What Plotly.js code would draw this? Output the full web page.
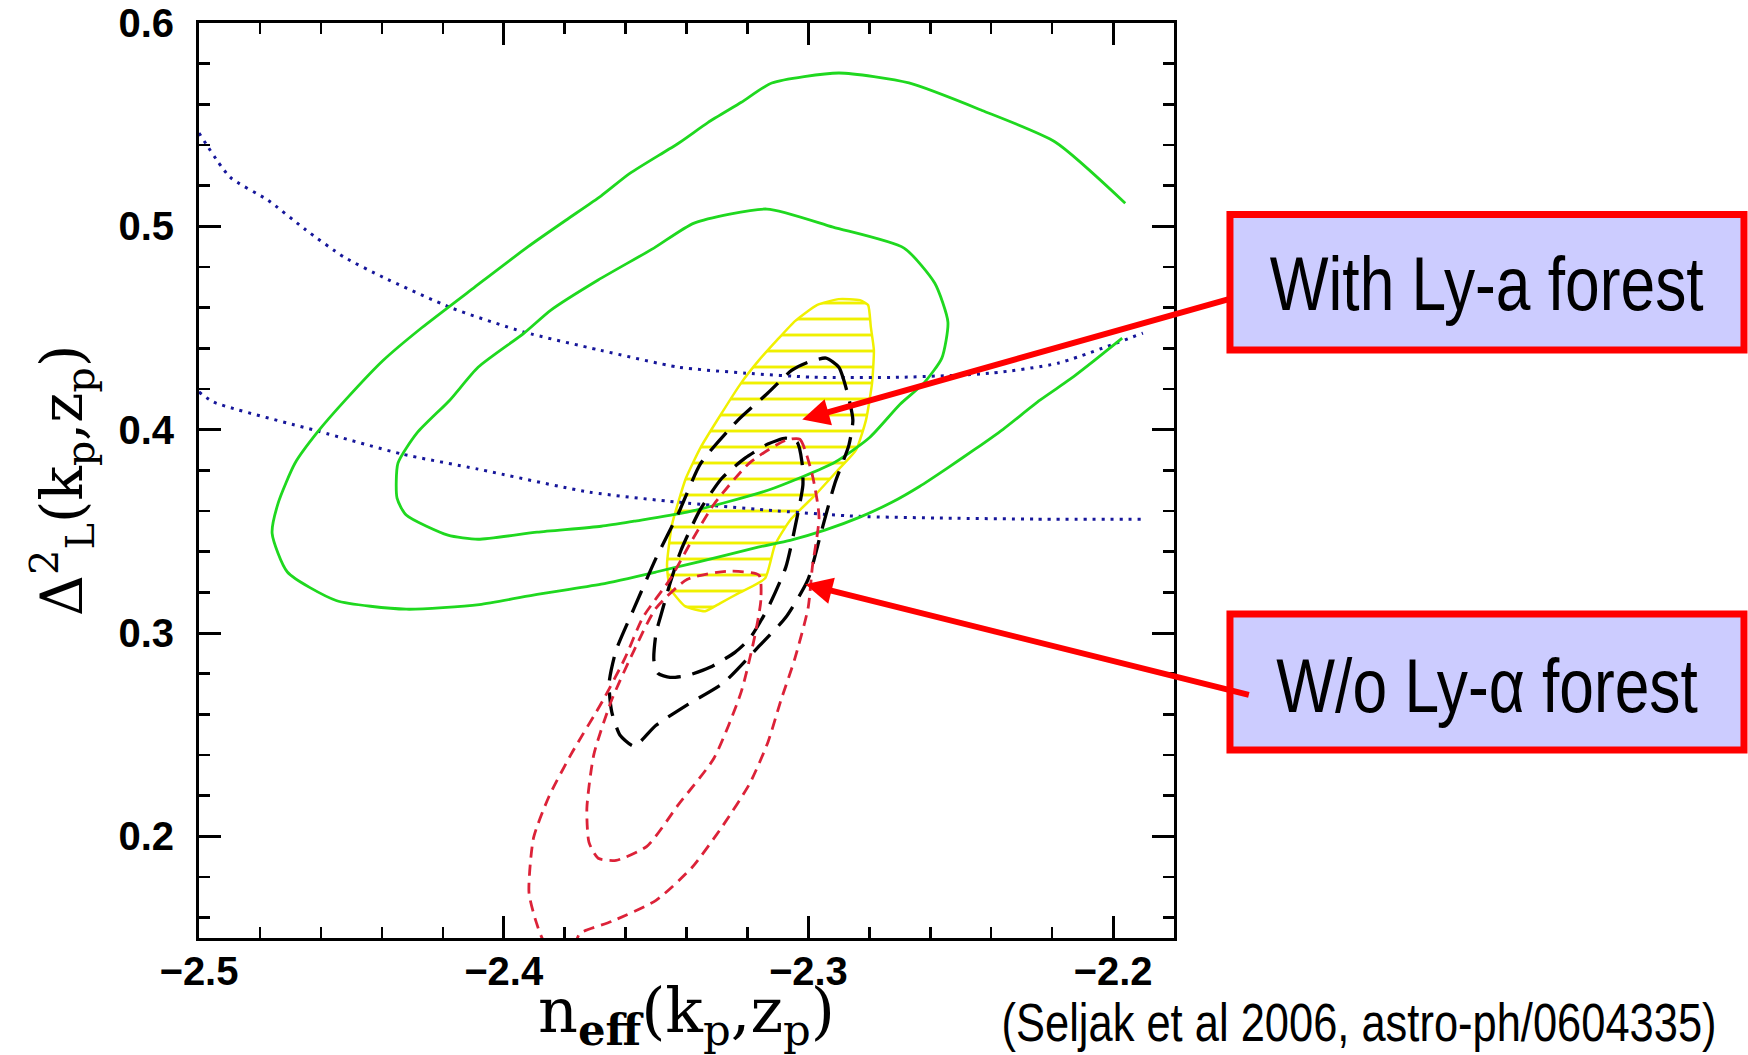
<!DOCTYPE html>
<html>
<head>
<meta charset="utf-8">
<script src="https://cdn.plot.ly/plotly-3.0.1.min.js"></script>
<style>html,body{margin:0;padding:0;background:#fff;}#chart{width:1748px;height:1055px;}</style>
</head>
<body>
<div id="chart"></div>
<script>
// ---- data (in axis units) ----
const greenOuterX = [-2.197,-2.206,-2.2141,-2.224,-2.2361,-2.2453,-2.2545,-2.2634,-2.2726,-2.2831,-2.2946,-2.306,-2.3165,-2.336,-2.350,-2.368,-2.389,-2.408,-2.432,-2.455,-2.471,-2.476,-2.474,-2.4685,-2.461,-2.452,-2.4396,-2.427,-2.4096,-2.392,-2.3796,-2.368,-2.3586,-2.3425,-2.333,-2.322,-2.312,-2.290,-2.267,-2.243,-2.219,-2.196];
const greenOuterY = [0.445,0.4342,0.4248,0.4145,0.4002,0.3904,0.381,0.3722,0.3643,0.357,0.3506,0.3456,0.3422,0.335,0.330,0.324,0.319,0.314,0.3117,0.316,0.330,0.349,0.364,0.3835,0.399,0.4145,0.434,0.450,0.470,0.490,0.503,0.515,0.526,0.541,0.551,0.561,0.5705,0.5754,0.5705,0.557,0.5415,0.5114];

const greenInnerX = [-2.4177,-2.4084,-2.3933,-2.3845,-2.369,-2.3507,-2.3375,-2.3136,-2.2919,-2.2686,-2.2585,-2.2542,-2.2562,-2.2621,-2.2699,-2.2798,-2.2913,-2.3133,-2.3398,-2.3572,-2.368,-2.389,-2.4084,-2.4183,-2.432,-2.435,-2.4347,-2.4285,-2.4177];
const greenInnerY = [0.4145,0.4307,0.4475,0.4588,0.4736,0.4893,0.5016,0.5085,0.4996,0.4893,0.472,0.4529,0.4352,0.4229,0.4125,0.3963,0.384,0.3702,0.3594,0.355,0.3525,0.3496,0.3461,0.3481,0.358,0.3663,0.3835,0.3983,0.4145];

const blueUpperX = [-2.5,-2.4898,-2.4774,-2.4649,-2.4524,-2.4396,-2.417,-2.3933,-2.3684,-2.3425,-2.3205,-2.2985,-2.2693,-2.24,-2.2181,-2.1902];
const blueUpperY = [0.5459,0.5242,0.5129,0.4982,0.4849,0.475,0.4598,0.448,0.4391,0.4307,0.4278,0.4258,0.4258,0.4278,0.4327,0.4475];

const blueLowerX = [-2.5,-2.4951,-2.461,-2.4334,-2.4084,-2.372,-2.3425,-2.3133,-2.284,-2.2548,-2.2253,-2.1902];
const blueLowerY = [0.4185,0.4135,0.3993,0.388,0.3806,0.3693,0.3643,0.3604,0.3574,0.3565,0.356,0.356];

const yellowX = [-2.2972,-2.2900,-2.2831,-2.2804,-2.2795,-2.2785,-2.2791,-2.2811,-2.2844,-2.2903,-2.2978,-2.306,-2.311,-2.3142,-2.3224,-2.329,-2.3339,-2.3405,-2.3454,-2.3464,-2.3448,-2.3402,-2.3353,-2.3293,-2.3221,-2.3162,-2.3103,-2.3044,-2.2972];
const yellowY = [0.4613,0.4642,0.4637,0.4613,0.4504,0.4391,0.4229,0.4047,0.3899,0.3801,0.3678,0.3555,0.3432,0.3269,0.32,0.3146,0.3107,0.3132,0.322,0.3333,0.353,0.3761,0.3914,0.4061,0.4229,0.4342,0.444,0.4534,0.4613];

const blackOuterX = [-2.2942,-2.29,-2.287,-2.2854,-2.2867,-2.2913,-2.2959,-2.3001,-2.3074,-2.3162,-2.328,-2.3395,-2.35,-2.3572,-2.3618,-2.3645,-2.3654,-2.3631,-2.3572,-2.35,-2.3425,-2.3353,-2.3231,-2.3133,-2.3054,-2.3001,-2.2942];
const blackOuterY = [0.4352,0.4307,0.417,0.4047,0.3924,0.3737,0.349,0.3264,0.3077,0.2935,0.2753,0.2649,0.2546,0.2443,0.2497,0.261,0.2753,0.2915,0.3122,0.3368,0.3594,0.3835,0.4047,0.418,0.4293,0.4332,0.4352];

const blackInnerX = [-2.3074,-2.3037,-2.3021,-2.3018,-2.3037,-2.3074,-2.3133,-2.3192,-2.3241,-2.3323,-2.3395,-2.3454,-2.3494,-2.3507,-2.35,-2.3484,-2.3454,-2.3418,-2.3356,-2.3284,-2.3208,-2.3133,-2.3074];
const blackInnerY = [0.3958,0.3939,0.384,0.3727,0.357,0.3324,0.3122,0.2974,0.2905,0.2831,0.2792,0.2782,0.2802,0.2866,0.2999,0.3087,0.3245,0.3407,0.3604,0.3761,0.386,0.3929,0.3958];

const redOuterX = [-2.3074,-2.3028,-2.2987,-2.2965,-2.2987,-2.3001,-2.3044,-2.309,-2.3133,-2.3192,-2.328,-2.3382,-2.35,-2.3645,-2.375,-2.3766,-2.3864,-2.3894,-2.3917,-2.3902,-2.3851,-2.3779,-2.3674,-2.3602,-2.3543,-2.3454,-2.3382,-2.331,-2.3192,-2.3074];
const redOuterY = [0.3948,0.3953,0.3776,0.357,0.3324,0.3122,0.2876,0.2669,0.2462,0.2261,0.2054,0.1847,0.1685,0.1582,0.1523,0.1478,0.1478,0.1582,0.1724,0.1993,0.2197,0.2403,0.2669,0.2876,0.3077,0.3264,0.3456,0.3633,0.3838,0.3948];

const redInnerX = [-2.3162,-2.3156,-2.3177,-2.3221,-2.331,-2.3426,-2.353,-2.3631,-2.369,-2.372,-2.3727,-2.3704,-2.3646,-2.3572,-2.35,-2.3397,-2.3265,-2.3162];
const redInnerY = [0.3284,0.3161,0.2977,0.2708,0.2384,0.2157,0.1951,0.1882,0.1892,0.197,0.2138,0.2403,0.2669,0.2915,0.3122,0.3264,0.3304,0.3284];

// arrow tips (axis units)
const arrowTipX = [-2.302, -2.301];
const arrowTipY = [0.405, 0.324];

const labels = ['With Ly-a forest', 'W/o Ly-\u03b1 forest'];
const citation = '(Seljak et al 2006, astro-ph/0604335)';

// ---- traces ----
const GREEN = '#1fd81f', BLUE = '#16169a', YELLOW = '#f0f000', RED = '#dc2238';
function line(x, y, color, width, dash) {
  return {x: x, y: y, type: 'scatter', mode: 'lines', hoverinfo: 'skip', showlegend: false,
          line: {color: color, width: width, dash: dash || 'solid', shape: 'spline', smoothing: 0.6}};
}
const traces = [
  {x: yellowX, y: yellowY, type: 'scatter', mode: 'lines', fill: 'toself', hoverinfo: 'skip', showlegend: false,
   line: {color: YELLOW, width: 2.5, shape: 'spline', smoothing: 0.5},
   fillcolor: 'rgba(0,0,0,0)',
   fillpattern: {shape: '-', size: 16, solidity: 0.18, fgcolor: YELLOW, bgcolor: 'rgba(255,255,255,0)'}},
  line(blueUpperX, blueUpperY, BLUE, 3, '3px,6px'),
  line(blueLowerX, blueLowerY, BLUE, 3, '3px,6px'),
  line(greenOuterX, greenOuterY, GREEN, 2.8),
  line(greenInnerX, greenInnerY, GREEN, 2.8),
  line(blackOuterX, blackOuterY, '#000000', 3.3, '24px,12px'),
  line(blackInnerX, blackInnerY, '#000000', 3.3, '24px,12px'),
  line(redOuterX, redOuterY, RED, 2.8, '11px,7px'),
  line(redInnerX, redInnerY, RED, 2.8, '11px,7px')
];

const tickFont = {family: 'Liberation Sans, Arial, sans-serif', size: 40, weight: 'bold', color: '#000'};
const sans = 'Liberation Sans, Arial, sans-serif';

const layout = {
  width: 1748, height: 1055,
  margin: {l: 199, r: 574, t: 23, b: 117, pad: 0},
  paper_bgcolor: '#ffffff', plot_bgcolor: '#ffffff',
  showlegend: false,
  xaxis: {
    range: [-2.5, -2.18], tick0: -2.5, dtick: 0.1, tickformat: '.1f',
    ticks: 'inside', ticklen: 22, tickwidth: 3, tickcolor: '#000',
    minor: {dtick: 0.02, ticks: 'inside', ticklen: 11, tickwidth: 2.5, tickcolor: '#000', showgrid: false},
    showline: true, linecolor: '#000', linewidth: 3, mirror: 'allticks',
    showgrid: false, zeroline: false, tickfont: tickFont, ticklabelstandoff: -4,
    title: {text: 'n<sub><b>eff</b></sub>(k<sub>p</sub>,z<sub>p</sub>)',
            font: {family: 'DejaVu Serif, serif', size: 62, color: '#000'}, standoff: 2}
  },
  yaxis: {
    range: [0.15, 0.6], tick0: 0.2, dtick: 0.1, tickformat: '.1f',
    ticks: 'inside', ticklen: 22, tickwidth: 3, tickcolor: '#000',
    minor: {dtick: 0.02, ticks: 'inside', ticklen: 11, tickwidth: 2.5, tickcolor: '#000', showgrid: false},
    showline: true, linecolor: '#000', linewidth: 3, mirror: 'allticks',
    showgrid: false, zeroline: false, tickfont: tickFont, ticklabelstandoff: 14,
    title: {text: '\u0394<sup>2</sup><sub>L</sub>(k<sub>p</sub>,z<sub>p</sub>)',
            font: {family: 'DejaVu Serif, serif', size: 57, color: '#000'}, standoff: 18}
  },
  shapes: [
    {type: 'rect', xref: 'paper', yref: 'paper', x0: 1.0574, x1: 1.5846, y0: 0.6426, y1: 0.7907,
     fillcolor: '#ccccff', line: {color: '#ff0000', width: 7}, layer: 'above'},
    {type: 'rect', xref: 'paper', yref: 'paper', x0: 1.0574, x1: 1.5846, y0: 0.2055, y1: 0.3541,
     fillcolor: '#ccccff', line: {color: '#ff0000', width: 7}, layer: 'above'}
  ],
  annotations: [
    {text: labels[0], xref: 'paper', yref: 'paper', x: 1.321, y: 0.715, showarrow: false,
     xanchor: 'center', yanchor: 'middle', font: {family: sans, size: 76, color: '#000'}},
    {text: labels[1], xref: 'paper', yref: 'paper', x: 1.321, y: 0.2755, showarrow: false,
     xanchor: 'center', yanchor: 'middle', font: {family: sans, size: 76, color: '#000'}},
    {text: '', x: arrowTipX[0], y: arrowTipY[0], xref: 'x', yref: 'y', showarrow: true,
     ax: 429, ay: -121, arrowcolor: '#ff0000', arrowwidth: 6, arrowhead: 2, arrowsize: 0.9, standoff: 0},
    {text: '', x: arrowTipX[1], y: arrowTipY[1], xref: 'x', yref: 'y', showarrow: true,
     ax: 445, ay: 111, arrowcolor: '#ff0000', arrowwidth: 6, arrowhead: 2, arrowsize: 0.9, standoff: 0},
    {text: citation, xref: 'paper', yref: 'paper', x: 1.1897, y: -0.0925, showarrow: false,
     xanchor: 'center', yanchor: 'middle', font: {family: sans, size: 53, color: '#000'}}
  ]
};

Plotly.newPlot('chart', traces, layout, {staticPlot: true, displayModeBar: false}).then(function (gd) {
  // the reference uses a condensed sans face: narrow the annotation texts horizontally
  gd.querySelectorAll('text.annotation-text').forEach(function (t) {
    if (!t.textContent) return;
    var bb = t.getBBox();
    var cx = bb.x + bb.width / 2;
    t.setAttribute('transform', 'translate(' + cx + ',0) scale(0.82,1) translate(' + (-cx) + ',0)');
  });
});
</script>
</body>
</html>
